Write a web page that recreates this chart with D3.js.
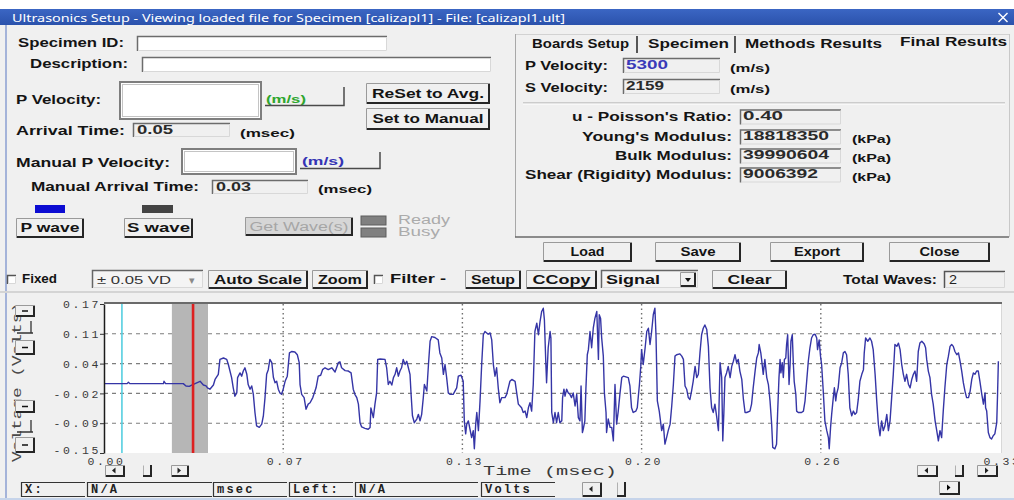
<!DOCTYPE html>
<html><head><meta charset="utf-8">
<script src="https://cdn.jsdelivr.net/npm/d3@7"></script>
<style>
html,body{margin:0;padding:0;background:#f0f0f0;overflow:hidden}
svg{display:block}
</style></head><body>
<svg id="win" width="1014" height="500"></svg>
<script>
// ---- Loaded P-wave record (time in msec, amplitude in volts) ----
const timeMs = [
0.0000,0.0085,0.0090,0.0095,0.0219,0.0221,0.0227,0.0292,0.0302,0.0314,0.0323,0.0354,0.0366,0.0376,0.0381,0.0390,
0.0403,0.0409,0.0421,0.0427,0.0440,0.0452,0.0458,0.0470,0.0476,0.0482,0.0489,0.0492,0.0501,0.0507,0.0513,0.0519,
0.0526,0.0531,0.0538,0.0544,0.0550,0.0556,0.0562,0.0572,0.0581,0.0587,0.0593,0.0599,0.0605,0.0611,0.0618,0.0624,
0.0630,0.0636,0.0642,0.0648,0.0654,0.0660,0.0667,0.0675,0.0683,0.0691,0.0703,0.0712,0.0719,0.0722,0.0728,0.0737,
0.0744,0.0752,0.0759,0.0769,0.0773,0.0781,0.0789,0.0798,0.0805,0.0814,0.0826,0.0839,0.0851,0.0863,0.0869,0.0875,
0.0888,0.0900,0.0910,0.0918,0.0924,0.0931,0.0937,0.0943,0.0949,0.0961,0.0973,0.0980,0.0983,0.0992,0.0998,0.1004,
0.1008,0.1017,0.1035,0.1041,0.1047,0.1053,0.1060,0.1066,0.1072,0.1078,0.1084,0.1090,0.1096,0.1102,0.1109,0.1115,
0.1121,0.1127,0.1131,0.1136,0.1143,0.1152,0.1158,0.1164,0.1170,0.1176,0.1180,0.1189,0.1195,0.1201,0.1207,0.1219,
0.1231,0.1237,0.1244,0.1250,0.1256,0.1262,0.1268,0.1274,0.1286,0.1299,0.1305,0.1315,0.1323,0.1327,0.1332,0.1336,
0.1342,0.1348,0.1354,0.1360,0.1364,0.1369,0.1373,0.1379,0.1385,0.1391,0.1397,0.1403,0.1415,0.1422,0.1428,0.1434,
0.1440,0.1446,0.1452,0.1458,0.1465,0.1477,0.1483,0.1489,0.1495,0.1502,0.1514,0.1520,0.1526,0.1538,0.1544,0.1551,
0.1557,0.1563,0.1569,0.1575,0.1581,0.1587,0.1594,0.1600,0.1606,0.1612,0.1618,0.1622,0.1627,0.1630,0.1636,0.1643,
0.1646,0.1649,0.1655,0.1661,0.1667,0.1673,0.1679,0.1686,0.1689,0.1694,0.1698,0.1704,0.1710,0.1716,0.1722,0.1728,
0.1735,0.1741,0.1747,0.1753,0.1757,0.1762,0.1765,0.1771,0.1775,0.1780,0.1784,0.1790,0.1796,0.1802,0.1808,0.1815,
0.1821,0.1824,0.1829,0.1833,0.1839,0.1843,0.1849,0.1851,0.1857,0.1864,0.1870,0.1876,0.1882,0.1888,0.1894,0.1900,
0.1907,0.1913,0.1925,0.1931,0.1937,0.1943,0.1949,0.1959,0.1964,0.1972,0.1977,0.1980,0.1986,0.1993,0.1999,0.2005,
0.2011,0.2017,0.2023,0.2029,0.2033,0.2038,0.2045,0.2054,0.2060,0.2066,0.2072,0.2078,0.2085,0.2091,0.2097,0.2103,
0.2109,0.2121,0.2128,0.2134,0.2140,0.2146,0.2152,0.2158,0.2164,0.2170,0.2177,0.2183,0.2189,0.2195,0.2201,0.2207,
0.2213,0.2220,0.2226,0.2232,0.2238,0.2244,0.2250,0.2257,0.2263,0.2269,0.2275,0.2279,0.2283,0.2287,0.2293,0.2299,
0.2306,0.2312,0.2318,0.2324,0.2330,0.2336,0.2342,0.2349,0.2355,0.2361,0.2367,0.2379,0.2385,0.2391,0.2398,0.2404,
0.2410,0.2413,0.2419,0.2422,0.2428,0.2434,0.2441,0.2447,0.2453,0.2459,0.2463,0.2471,0.2477,0.2481,0.2486,0.2490,
0.2493,0.2498,0.2502,0.2506,0.2511,0.2514,0.2518,0.2523,0.2527,0.2530,0.2535,0.2539,0.2542,0.2548,0.2551,0.2557,
0.2569,0.2576,0.2582,0.2588,0.2594,0.2600,0.2606,0.2612,0.2619,0.2625,0.2628,0.2634,0.2639,0.2643,0.2649,0.2655,
0.2662,0.2668,0.2671,0.2676,0.2680,0.2686,0.2690,0.2695,0.2698,0.2704,0.2711,0.2717,0.2723,0.2729,0.2735,0.2741,
0.2747,0.2754,0.2760,0.2766,0.2772,0.2778,0.2784,0.2791,0.2797,0.2800,0.2805,0.2813,0.2821,0.2827,0.2833,0.2840,
0.2846,0.2852,0.2858,0.2864,0.2870,0.2876,0.2883,0.2889,0.2895,0.2901,0.2907,0.2913,0.2920,0.2926,0.2932,0.2938,
0.2944,0.2950,0.2956,0.2963,0.2969,0.2975,0.2981,0.2987,0.2993,0.2999,0.3005,0.3012,0.3021,0.3026,0.3030,0.3036,
0.3042,0.3048,0.3054,0.3061,0.3067,0.3073,0.3079,0.3085,0.3091,0.3097,0.3104,0.3110,0.3116,0.3122,0.3128,0.3134,
0.3141,0.3147,0.3153,0.3159,0.3165,0.3171,0.3177,0.3184,0.3190,0.3196,0.3202,0.3208,0.3214,0.3220,0.3226,0.3233,
0.3239,0.3245,0.3247,0.3251,0.3257,0.3263,0.3269,0.3275,0.3281,0.3288,0.3291,0.3294
];
const voltage = [
-0.001,-0.001,0.002,-0.001,-0.001,0.004,-0.001,-0.001,-0.006,-0.007,-0.004,0.004,-0.004,-0.006,-0.010,-0.013,
-0.004,0.008,0.019,0.051,0.054,0.051,0.040,0.012,-0.010,-0.028,-0.021,0.012,0.022,0.015,0.026,0.033,
0.019,-0.003,-0.013,-0.006,-0.024,-0.063,-0.092,-0.095,-0.088,-0.070,-0.031,0.019,0.029,0.051,0.044,0.012,
0.001,0.004,-0.013,-0.021,-0.024,-0.013,0.004,0.015,0.065,0.068,0.067,0.061,0.044,-0.003,-0.024,-0.031,
-0.056,-0.045,-0.042,-0.031,-0.024,-0.010,0.015,0.017,0.029,0.033,0.029,0.033,0.024,0.044,0.046,0.033,
0.027,0.026,0.022,-0.013,-0.024,-0.031,-0.045,-0.085,-0.094,-0.097,-0.099,-0.095,-0.053,-0.074,-0.045,-0.021,
0.051,0.052,0.051,0.033,-0.003,0.004,-0.004,0.012,0.019,0.033,0.015,0.026,0.033,0.051,0.040,0.047,
0.033,0.019,-0.024,-0.070,-0.085,-0.077,-0.067,-0.081,-0.067,-0.031,-0.003,-0.017,0.040,0.090,0.100,0.098,
0.093,0.065,0.054,0.019,0.040,0.012,-0.021,-0.024,-0.024,-0.010,0.015,0.017,0.004,-0.081,-0.109,-0.088,
-0.081,-0.099,-0.117,-0.102,-0.141,-0.088,-0.063,-0.102,-0.038,0.040,0.104,0.111,0.105,0.108,0.093,0.040,
0.015,0.033,-0.010,-0.042,-0.031,-0.031,-0.024,-0.010,0.004,0.008,0.004,-0.021,-0.045,-0.053,-0.063,-0.060,
-0.074,-0.053,-0.042,-0.060,-0.003,0.111,0.129,0.104,0.132,0.154,0.161,0.136,0.047,0.001,0.076,0.111,
0.097,-0.063,-0.085,-0.063,-0.085,-0.063,-0.085,-0.081,-0.031,-0.013,-0.028,-0.013,-0.021,-0.024,-0.031,-0.021,
-0.049,-0.024,-0.074,-0.081,-0.006,-0.106,-0.099,-0.081,-0.010,0.061,0.072,0.111,0.076,0.118,0.139,0.154,
0.051,0.147,0.139,0.097,0.058,-0.021,-0.063,-0.106,-0.077,-0.095,-0.095,-0.124,-0.003,-0.088,-0.060,-0.024,
0.012,0.015,0.013,0.012,-0.006,-0.053,-0.063,-0.060,-0.053,-0.003,0.036,0.072,0.040,0.076,0.111,0.118,
0.083,0.111,0.147,0.161,0.104,-0.038,-0.060,-0.102,-0.088,-0.131,-0.117,-0.102,-0.088,-0.049,-0.003,0.058,
0.061,0.063,0.058,0.051,-0.006,-0.013,-0.031,-0.035,-0.017,0.004,0.036,0.012,0.019,0.065,0.104,0.118,
0.125,0.115,0.079,-0.010,-0.053,-0.063,-0.045,-0.074,-0.102,0.044,0.012,-0.124,-0.063,0.012,0.022,0.036,
0.012,0.036,0.047,0.061,0.044,0.051,0.026,0.008,-0.035,-0.063,-0.063,-0.060,-0.045,-0.010,0.026,0.054,
0.065,0.083,0.065,0.051,0.019,0.051,0.012,-0.003,-0.038,-0.088,-0.138,-0.141,-0.131,-0.063,0.012,0.051,
0.022,0.044,0.012,0.051,0.054,0.083,0.104,-0.003,0.040,0.090,0.104,0.040,0.004,-0.024,-0.060,-0.063,
-0.063,-0.060,-0.038,0.004,0.047,0.076,0.097,0.104,0.105,0.097,0.072,0.093,0.058,0.040,-0.017,-0.081,
-0.102,-0.117,-0.141,-0.095,-0.067,-0.031,-0.010,-0.038,-0.024,-0.010,0.033,0.044,0.065,0.068,0.061,0.019,
-0.053,-0.070,-0.060,-0.067,-0.063,-0.035,0.004,0.019,0.029,0.065,0.097,0.090,0.097,0.090,0.072,0.019,
-0.038,-0.088,-0.113,-0.081,-0.102,-0.092,-0.067,-0.102,-0.081,-0.031,0.019,0.083,0.079,0.086,0.072,0.040,
0.019,0.004,0.019,-0.003,-0.010,0.008,0.019,0.026,0.004,0.068,0.086,0.090,0.084,0.076,0.051,0.026,
0.012,-0.024,-0.045,-0.081,-0.102,-0.124,-0.102,-0.117,-0.060,-0.010,0.040,0.058,0.079,0.083,0.079,0.068,
0.061,0.065,0.047,0.026,0.001,-0.017,-0.031,-0.031,-0.017,0.008,0.022,0.019,0.026,0.026,0.004,-0.024,
-0.045,-0.021,-0.053,-0.060,-0.106,-0.117,-0.120,-0.113,-0.109,-0.085,-0.024,0.047
];
const xTickValues = [0, 0.066, 0.132, 0.198, 0.264, 0.33];
const xTickLabels = ["0.00", "0.07", "0.13", "0.20", "0.26", "0.33"];
const yTickValues = [-0.15, -0.086, -0.022, 0.042, 0.106, 0.17];
const yTickLabels = ["-0.15", "-0.09", "-0.02", "0.04", "0.11", "0.17"];
const cursorMs = 0.0066;              // cyan cursor
const pickWindowMs = [0.025, 0.0383]; // shaded pick window
const manualArrivalMs = 0.0328;       // red marker (Manual Arrival Time 0.03)

const svg = d3.select('#win');
const SANS = 'Liberation Sans, Arial, sans-serif';
const MONO = 'Liberation Mono, Courier New, monospace';

function txt(g, s, x, y, o = {}) {
  const t = g.append('text').attr('x', x).attr('y', y).text(s)
    .attr('dominant-baseline', 'central')
    .attr('font-family', o.font || SANS)
    .attr('font-size', o.size || 12.5)
    .attr('font-weight', o.weight || 'bold')
    .attr('fill', o.color || '#141414');
  if (o.w) t.attr('textLength', o.w).attr('lengthAdjust', 'spacingAndGlyphs');
  if (o.ls) t.attr('letter-spacing', o.ls);
  if (o.anchor) t.attr('text-anchor', o.anchor);
  return t;
}
function line(g, x1, y1, x2, y2, c, w = 1) {
  return g.append('line').attr('x1', x1).attr('y1', y1).attr('x2', x2).attr('y2', y2)
    .attr('stroke', c).attr('stroke-width', w);
}
function rect(g, x, y, w, h, fill, stroke, sw = 1) {
  return g.append('rect').attr('x', x).attr('y', y).attr('width', w).attr('height', h)
    .attr('fill', fill).attr('stroke', stroke || 'none').attr('stroke-width', sw);
}
// raised 3D button face
function raised(g, x0, y0, x1, y1, fill = '#f0f0f0') {
  rect(g, x0, y0, x1 - x0, y1 - y0, fill);
  g.append('path').attr('d', `M${x0 + .5},${y1} V${y0 + .5} H${x1}`).attr('fill', 'none').attr('stroke', '#9a9a9a');
  g.append('path').attr('d', `M${x0 + 1},${y1 - 1} H${x1 - 1} V${y0 + 1}`).attr('fill', 'none').attr('stroke', '#262626').attr('stroke-width', 2);
}
// sunken edit box
function sunken(g, x0, y0, x1, y1, fill = '#f0f0f0', dark = '#6c6c6c') {
  rect(g, x0, y0, x1 - x0, y1 - y0, fill);
  g.append('path').attr('d', `M${x0 + .5},${y1} V${y0 + .5} H${x1}`).attr('fill', 'none').attr('stroke', dark).attr('stroke-width', 1.5);
  g.append('path').attr('d', `M${x0 + 1},${y1 - .5} H${x1 - .5} V${y0 + 1}`).attr('fill', 'none').attr('stroke', '#d8d8d8');
}
function button(g, x0, y0, x1, y1, label, tw, o = {}) {
  raised(g, x0, y0, x1, y1, o.fill);
  const cx = (x0 + x1) / 2 + (o.dx || 0);
  txt(g, label, cx - tw / 2, (y0 + y1) / 2, { w: tw, color: o.color, weight: o.weight, size: o.size });
}
function arrowBtn(g, x0, y0, x1, y1, dir, filled) {
  raised(g, x0, y0, x1, y1);
  const cx = (x0 + x1) / 2 - 1, cy = (y0 + y1) / 2 - .5;
  const d = dir < 0 ? `M${cx - 2},${cy} L${cx + 1.5},${cy - 3} L${cx + 1.5},${cy + 3}Z`
                    : `M${cx + 2},${cy} L${cx - 1.5},${cy - 3} L${cx - 1.5},${cy + 3}Z`;
  g.append('path').attr('d', d).attr('fill', filled ? '#000' : '#222');
}
function thumb(g, x0, y0, x1, y1) {
  g.append('path').attr('d', `M${x0},${y1 - 1} H${x1 - 1} V${y0}`).attr('fill', 'none').attr('stroke', '#262626').attr('stroke-width', 2);
  g.append('path').attr('d', `M${x0 + .5},${y1 - 2} V${y0 + .5}`).attr('fill', 'none').attr('stroke', '#b0b0b0');
}

// ---------- window chrome ----------
rect(svg, 0, 0, 1014, 500, '#f0f0f0');
rect(svg, 0, 0, 1014, 9, '#ffffff');
const grad = svg.append('defs').append('linearGradient').attr('id', 'tb').attr('x1', 0).attr('x2', 0).attr('y1', 0).attr('y2', 1);
grad.append('stop').attr('offset', 0).attr('stop-color', '#3b66c4');
grad.append('stop').attr('offset', 1).attr('stop-color', '#2b52ac');
rect(svg, 0, 9, 1014, 16, 'url(#tb)');
txt(svg, 'Ultrasonics Setup - Viewing loaded file for Specimen [calizapl1] - File:  [calizapl1.ult]', 12, 17.5,
  { font: 'Noto Sans, DejaVu Sans, sans-serif', size: 11, weight: 'normal', color: '#ffffff', w: 553 });
line(svg, 998.5, 13, 1007.5, 22, '#ffffff', 1.4);
line(svg, 1007.5, 13, 998.5, 22, '#ffffff', 1.4);
line(svg, 6, 25, 6, 500, '#8b9fd2', 1.5);

// ---------- left form ----------
const L = svg.append('g');
txt(L, 'Specimen ID:', 18, 43, { w: 106 });
sunken(L, 137, 36, 387, 51, '#ffffff');
txt(L, 'Description:', 30, 64, { w: 98 });
sunken(L, 142, 57, 491, 72, '#ffffff');

txt(L, 'P Velocity:', 16, 100, { w: 85 });
rect(L, 120, 82, 141, 37, '#ffffff', '#7e7e7e', 2);
rect(L, 122.5, 84.5, 136, 32, 'none', '#c4c4c4', 1);
txt(L, '(m/s)', 266, 99, { w: 40, color: '#2ea62e', size: 11.5 });
L.append('path').attr('d', 'M265,105.5 H344 V87').attr('fill', 'none').attr('stroke', '#4a4a4a').attr('stroke-width', 1.5);
button(L, 366, 83, 490, 104, 'ReSet to Avg.', 112);
button(L, 366, 108, 490, 130, 'Set to Manual', 111);

txt(L, 'Arrival Time:', 16, 131, { w: 109 });
sunken(L, 133, 123, 230, 137);
txt(L, '0.05', 137, 129.5, { w: 36, color: '#2a2a2a' });
txt(L, '(msec)', 240, 133, { w: 55, size: 11.5 });

txt(L, 'Manual P Velocity:', 16, 163, { w: 154 });
rect(L, 182, 149, 114, 25, '#ffffff', '#7e7e7e', 2);
rect(L, 184.5, 151.5, 109, 20, 'none', '#c4c4c4', 1);
txt(L, '(m/s)', 302, 161, { w: 42, color: '#3434b4', size: 11.5 });
L.append('path').attr('d', 'M300,168.5 H380 V152').attr('fill', 'none').attr('stroke', '#4a4a4a').attr('stroke-width', 1.5);

txt(L, 'Manual Arrival Time:', 31, 187, { w: 168 });
sunken(L, 212, 180, 308, 194);
txt(L, '0.03', 216, 186.5, { w: 35, color: '#2a2a2a' });
txt(L, '(msec)', 318, 189, { w: 54, size: 11.5 });

rect(L, 35, 205, 30, 8, '#0c0cd2');
rect(L, 142, 205, 31, 8, '#444444');
button(L, 16, 218, 84, 238, 'P wave', 59);
button(L, 124, 218, 193, 238, 'S wave', 63);
button(L, 245, 217, 353, 236, 'Get Wave(s)', 99, { fill: '#d6d6d6', color: '#a6a6a6', weight: 'normal', size: 12 });
rect(L, 361, 216, 25, 9, '#808080', '#5c5c5c');
rect(L, 361, 228, 25, 9, '#808080', '#5c5c5c');
txt(L, 'Ready', 398, 220, { w: 52, color: '#ababab', weight: 'normal' });
txt(L, 'Busy', 398, 232, { w: 42, color: '#ababab', weight: 'normal' });

// ---------- results tab panel ----------
const R = svg.append('g');
line(R, 515, 34.5, 1009, 34.5, '#d2d2d2');
line(R, 515.5, 34, 515.5, 237, '#a8a8a8');
line(R, 515, 237, 1009, 237, '#6a6a6a', 1.5);
line(R, 1009.5, 34, 1009.5, 237, '#c8c8c8');
txt(R, 'Boards Setup', 532, 44, { w: 97 });
line(R, 637, 36, 637, 53, '#303030', 1.6);
txt(R, 'Specimen', 648, 44, { w: 81 });
line(R, 735, 36, 735, 53, '#303030', 1.6);
txt(R, 'Methods Results', 745, 44, { w: 137 });
txt(R, 'Final Results', 900, 42, { w: 107 });

txt(R, 'P Velocity:', 525, 66, { w: 83 });
sunken(R, 623, 58, 720, 73);
txt(R, '5300', 626, 64.5, { w: 42, color: '#3a3ab8' });
txt(R, '(m/s)', 730, 68, { w: 40, size: 11.5 });
txt(R, 'S Velocity:', 525, 88, { w: 83 });
sunken(R, 623, 79, 720, 94);
txt(R, '2159', 626, 85.5, { w: 38, color: '#2a2a2a' });
txt(R, '(m/s)', 730, 89, { w: 40, size: 11.5 });
line(R, 523, 103, 1005, 103, '#a8a8a8');
line(R, 523, 104, 1005, 104, '#ffffff');

const moduli = [
  { label: "u - Poisson's Ratio:", lw: 160, y: 117, value: '0.40', vw: 40, unit: '' },
  { label: "Young's Modulus:", lw: 150, y: 137, value: '18818350', vw: 86, unit: '(kPa)' },
  { label: 'Bulk Modulus:', lw: 117, y: 156, value: '39990604', vw: 86, unit: '(kPa)' },
  { label: 'Shear (Rigidity) Modulus:', lw: 207, y: 175, value: '9006392', vw: 75, unit: '(kPa)' }
];
moduli.forEach(m => {
  txt(R, m.label, 732 - m.lw, m.y, { w: m.lw });
  sunken(R, 740, m.y - 7.5, 841, m.y + 7.5);
  txt(R, m.value, 743, m.y - 1, { w: m.vw, color: '#2a2a2a' });
  if (m.unit) txt(R, m.unit, 852, m.y + 2, { w: 39, size: 11.5 });
});

// ---------- action buttons ----------
const B = svg.append('g');
button(B, 543, 242, 632, 262, 'Load', 34);
button(B, 655, 242, 741, 262, 'Save', 35);
button(B, 770, 242, 864, 262, 'Export', 46);
button(B, 889, 242, 990, 262, 'Close', 40);

// ---------- toolbar ----------
const T = svg.append('g');
sunken(T, 7, 275, 16, 284, '#ffffff', '#555');
txt(T, 'Fixed', 22, 279, { w: 35 });
sunken(T, 92, 270, 203, 288, '#f4f4f4', '#666');
txt(T, '± 0.05 VD', 97, 279.5, { w: 74, weight: 'normal', size: 11.5, color: '#333' });
txt(T, '▾', 189, 279.5, { weight: 'normal', size: 11, color: '#8a8a8a' });
button(T, 208, 270, 308, 289, 'Auto Scale', 88);
button(T, 312, 270, 368, 289, 'Zoom', 44);
sunken(T, 374, 275, 383, 284, '#ffffff', '#555');
txt(T, 'Filter -', 390, 279, { w: 56 });
button(T, 465, 270, 521, 289, 'Setup', 44);
button(T, 526, 270, 597, 289, 'CCopy', 58);
sunken(T, 601, 270, 698, 288, '#f4f4f4', '#666');
txt(T, 'Signal', 606, 279.5, { w: 54 });
raised(T, 680, 272, 696, 287);
T.append('path').attr('d', 'M685,278 h6 l-3,4z').attr('fill', '#111');
button(T, 712, 270, 787, 289, 'Clear', 44);
txt(T, 'Total Waves:', 843, 279.5, { w: 94 });
sunken(T, 944, 271, 1005, 288, '#f0f0f0', '#555');
txt(T, '2', 949, 279.5, { w: 8, weight: 'normal', color: '#222' });

line(svg, 0, 292, 1014, 292, '#d4d4d4', 2);

// ---------- waveform chart ----------
const x = d3.scaleLinear().domain([0, 0.33]).range([104, 1000]);
const y = d3.scaleLinear().domain([-0.15, 0.17]).range([453, 304]);
const C = svg.append('g');
rect(C, 104, 304, 897, 149, '#ffffff');

C.selectAll('line.hgrid').data(yTickValues.slice(1, -1)).join('line').attr('class', 'hgrid')
  .attr('x1', 104).attr('x2', 1001).attr('y1', d => y(d)).attr('y2', d => y(d))
  .attr('stroke', '#7d7d7d').attr('stroke-width', 1.1).attr('stroke-dasharray', '4,4');
C.selectAll('line.vgrid').data(xTickValues.slice(1, -1)).join('line').attr('class', 'vgrid')
  .attr('x1', d => x(d)).attr('x2', d => x(d)).attr('y1', 304).attr('y2', 453)
  .attr('stroke', '#6f6f6f').attr('stroke-width', 1.4).attr('stroke-dasharray', '1.5,3');

C.append('rect').attr('x', x(pickWindowMs[0])).attr('y', 304)
  .attr('width', x(pickWindowMs[1]) - x(pickWindowMs[0])).attr('height', 149).attr('fill', '#b6b6b6');
C.append('line').attr('x1', x(cursorMs)).attr('x2', x(cursorMs)).attr('y1', 304).attr('y2', 453)
  .attr('stroke', '#56cfe0').attr('stroke-width', 1.6);

const pts = timeMs.map((t, i) => [t, voltage[i]]);
C.append('path').datum(pts)
  .attr('d', d3.line().x(d => x(d[0])).y(d => y(d[1])))
  .attr('fill', 'none').attr('stroke', '#3535a6').attr('stroke-width', 1.4).attr('stroke-linejoin', 'round');

C.append('line').attr('x1', x(manualArrivalMs)).attr('x2', x(manualArrivalMs)).attr('y1', 304).attr('y2', 453)
  .attr('stroke', '#dd2020').attr('stroke-width', 2.6);

line(C, 104, 303, 1002, 303, '#6a6a6a', 2);
line(C, 1001.5, 304, 1001.5, 453, '#d8d8d8', 1);

const yAxis = C.append('g').attr('transform', 'translate(104,0)')
  .call(d3.axisLeft(y).tickValues(yTickValues).tickFormat((d, i) => yTickLabels[i]).tickSize(4).tickSizeOuter(0));
yAxis.select('.domain').attr('stroke', '#1c1c1c').attr('stroke-width', 1.5);
yAxis.selectAll('.tick line').attr('stroke', '#333');
yAxis.selectAll('.tick text').attr('font-family', MONO).attr('font-size', 11.5).attr('fill', '#3a3a3a')
  .attr('letter-spacing', 2.6).attr('x', -3).attr('dy', (d, i) => i === 0 ? '0.05em' : '0.32em');

const xAxis = C.append('g').attr('transform', 'translate(0,453)')
  .call(d3.axisBottom(x).tickValues(xTickValues).tickFormat((d, i) => xTickLabels[i]).tickSize(0));
xAxis.select('.domain').remove();
xAxis.selectAll('.tick text').attr('font-family', MONO).attr('font-size', 11.5).attr('fill', '#3a3a3a')
  .attr('letter-spacing', 2.6).attr('y', 4).attr('dx', 2);

txt(C, 'Time (msec)', 483, 472, { font: MONO, size: 12, weight: 'normal', color: '#3a3a3a', w: 134 });

// y-axis title with scale spinners over it
const Y = svg.append('g');
txt(Y, 'Voltage (Volts)', 0, 0, { font: MONO, size: 12, weight: 'normal', color: '#4a4a4a', w: 160 })
  .attr('transform', 'translate(18,462) rotate(-90)');
[[305, 317], [340, 355], [400, 413], [437, 453]].forEach(([a, b]) => {
  raised(Y, 15, a, 35, b);
  line(Y, 22, (a + b) / 2, 28, (a + b) / 2, '#111', 1.5);
});
Y.append('path').attr('d', 'M17,333 H33 M31,321 V333 M17,432 H33 M31,420 V432').attr('fill', 'none').attr('stroke', '#333').attr('stroke-width', 1.3);

// scroll controls
const S = svg.append('g');
arrowBtn(S, 105, 465, 125, 477, -1);
thumb(S, 143, 465, 152, 477);
arrowBtn(S, 171, 465, 189, 477, 1);
arrowBtn(S, 917, 465, 938, 477, -1);
thumb(S, 955, 465, 964, 477);
arrowBtn(S, 977, 465, 998, 477, 1);
arrowBtn(S, 939, 481, 960, 495, 1, true);
arrowBtn(S, 582, 482, 602, 497, -1);
thumb(S, 617, 482, 626, 497);

// status read-outs
const status = [
  { x0: 21, x1: 85, s: 'X:' }, { x0: 87, x1: 212, s: 'N/A' }, { x0: 213, x1: 287, s: 'msec' },
  { x0: 289, x1: 353, s: 'Left:' }, { x0: 355, x1: 478, s: 'N/A' }, { x0: 481, x1: 555, s: 'Volts' }
];
status.forEach(b => {
  rect(S, b.x0, 482, b.x1 - b.x0, 15, '#f0f0f0');
  S.append('path').attr('d', `M${b.x0 + .5},497 V482.5 H${b.x1} M${b.x0},496.5 H${b.x1}`)
    .attr('fill', 'none').attr('stroke', '#333').attr('stroke-width', 1.2);
  txt(S, b.s, b.x0 + 4, 490, { font: MONO, size: 12, weight: 'bold', color: '#222', ls: 2.2 });
});
line(svg, 0, 499, 1014, 499, '#c6d4ea', 2);
</script>
</body></html>
